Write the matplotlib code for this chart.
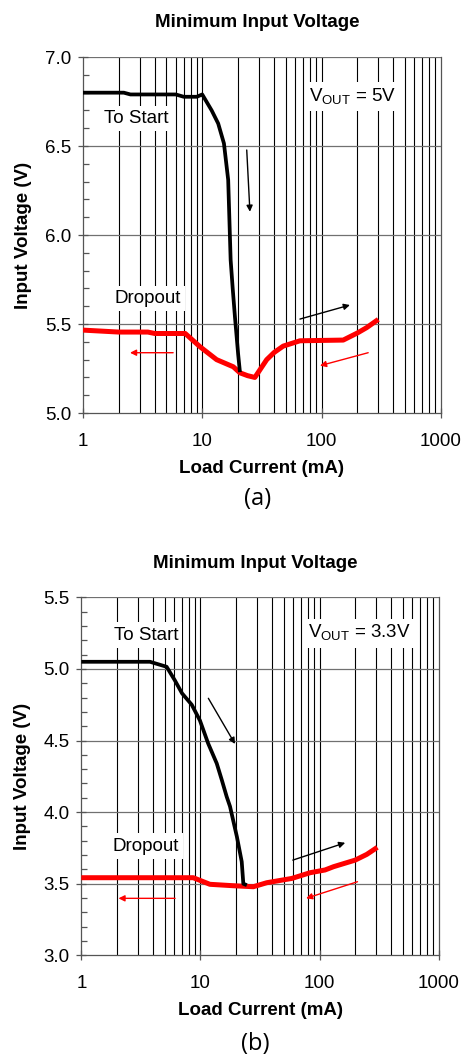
import numpy as np
import matplotlib.pyplot as plt
from matplotlib.ticker import FixedLocator, NullFormatter

plt.rcParams['font.family'] = ['Liberation Sans', 'DejaVu Sans']
plt.rcParams['mathtext.fontset'] = 'custom'
plt.rcParams['mathtext.rm'] = 'Liberation Sans'

# (a) VOUT = 5V
start_a_x = [1, 2.2, 2.5, 6.0, 7.0, 9.0, 10.0, 12.0, 13.6, 15.2, 16.5, 17.3, 18.0, 18.8, 20.0, 20.7]
start_a_y = [6.80, 6.80, 6.79, 6.79, 6.777, 6.777, 6.79, 6.70, 6.627, 6.515, 6.31, 5.86, 5.70, 5.54, 5.33, 5.23]
drop_a_x = [1, 2.0, 3.5, 4.0, 7.2, 9.6, 13.2, 18.2, 20.7, 24.0, 27.6, 34.7, 40.0, 47.7, 65.9, 152, 200, 239, 299]
drop_a_y = [5.466, 5.455, 5.455, 5.447, 5.447, 5.372, 5.30, 5.26, 5.226, 5.21, 5.20, 5.30, 5.34, 5.376, 5.406, 5.41, 5.45, 5.48, 5.526]

# (b) VOUT = 3.3V
start_b_x = [1, 3.77, 5.2, 6.1, 7.0, 8.45, 9.9, 11.6, 13.7, 15.1, 16.6, 17.7, 20.2, 22.2, 22.9, 24.5]
start_b_y = [5.05, 5.05, 5.015, 4.92, 4.83, 4.75, 4.64, 4.48, 4.34, 4.225, 4.108, 4.04, 3.83, 3.654, 3.50, 3.49]
drop_b_x = [1, 8.7, 12.0, 18.9, 27.8, 36.0, 58.5, 83.3, 111, 131, 199, 249, 305]
drop_b_y = [3.542, 3.542, 3.496, 3.486, 3.479, 3.507, 3.537, 3.577, 3.596, 3.619, 3.665, 3.705, 3.754]

panels = [
    dict(rect=[0.178, 0.6107, 0.768, 0.3355], ylim=(5.0, 7.0), sx=start_a_x, sy=start_a_y,
         dx=drop_a_x, dy=drop_a_y, vout='V$_{\\mathregular{OUT}}$ = 5V', tag='(a)',
         start_lbl=(2.78, 6.657), vout_lbl=(183, 6.777), drop_lbl=(3.5, 5.644),
         arrows=[((23.6, 6.478), (25.1, 6.131), 'k'), ((65.9, 5.528), (173, 5.607), 'k'),
                 ((5.7, 5.339), (2.48, 5.339), 'r'), ((246, 5.339), (97, 5.266), 'r')],
         title_y=0.979, tag_y=0.530),
    dict(rect=[0.1745, 0.0996, 0.767, 0.3374], ylim=(3.0, 5.5), sx=start_b_x, sy=start_b_y,
         dx=drop_b_x, dy=drop_b_y, vout='V$_{\\mathregular{OUT}}$ = 3.3V', tag='(b)',
         start_lbl=(3.48, 5.237), vout_lbl=(215, 5.249), drop_lbl=(3.44, 3.763),
         arrows=[((11.65, 4.795), (19.5, 4.476), 'k'), ((59.6, 3.665), (164, 3.786), 'k'),
                 ((6.12, 3.398), (2.05, 3.398), 'r'), ((208, 3.514), (77, 3.398), 'r')],
         title_y=0.469, tag_y=0.016),
]

fs = 13.5

fig = plt.figure(figsize=(4.66, 10.61), dpi=100)

for p in panels:
    ax = fig.add_axes(p['rect'])
    ax.set_xscale('log')
    ax.set_xlim(1, 1000)
    ax.set_ylim(*p['ylim'])
    ax.set_yticks(np.arange(p['ylim'][0], p['ylim'][1] + 0.01, 0.5))
    ax.yaxis.set_minor_locator(FixedLocator(np.arange(p['ylim'][0], p['ylim'][1], 0.1)))
    ax.set_yticklabels(['%.1f' % v for v in ax.get_yticks()])
    ax.set_xticks([1, 10, 100, 1000])
    ax.set_xticklabels(['1', '10', '100', '1000'])
    ax.xaxis.set_minor_formatter(NullFormatter())

    vlines = [m * 10 ** d for d in range(3) for m in range(2, 10)] + [10, 100]
    for v in vlines:
        ax.axvline(v, color='black', lw=0.8, zorder=1)
    for h in np.arange(p['ylim'][0] + 0.5, p['ylim'][1] + 0.01, 0.5):
        ax.axhline(h, color='#707070', lw=0.9, zorder=1)

    ax.tick_params(axis='both', which='major', direction='inout', length=7, width=0.9,
                   color='#555555', labelsize=fs, pad=5)
    ax.tick_params(axis='x', which='major', pad=11)
    ax.tick_params(axis='y', which='minor', direction='in', length=4, width=0.9, color='#555555')
    ax.tick_params(axis='x', which='minor', length=0)
    for s in ['left', 'bottom', 'right']:
        ax.spines[s].set_color('#555555')
        ax.spines[s].set_linewidth(0.9)
    ax.spines['top'].set_visible(False)

    ax.plot(p['dx'], p['dy'], color='#ff0000', lw=3.6, zorder=3, solid_capstyle='butt')
    ax.plot(p['sx'], p['sy'], color='black', lw=2.7, zorder=4, solid_capstyle='butt')

    for (x0, y0), (x1, y1), c in p['arrows']:
        col = 'black' if c == 'k' else '#ff0000'
        ax.annotate('', xy=(x1, y1), xytext=(x0, y0),
                    arrowprops=dict(arrowstyle='-|>', color=col, lw=1.0,
                                    mutation_scale=9, shrinkA=0, shrinkB=0), zorder=5)

    box = dict(facecolor='white', edgecolor='none', pad=3)
    ax.text(*p['start_lbl'], 'To Start', fontsize=fs, ha='center', va='center', bbox=box, zorder=6)
    ax.text(*p['drop_lbl'], 'Dropout', fontsize=fs, ha='center', va='center', bbox=box, zorder=6)
    ax.text(*p['vout_lbl'], p['vout'], fontsize=fs, ha='center', va='center', bbox=box, zorder=6)

    ax.set_xlabel('Load Current (mA)', fontsize=fs, fontweight='bold', labelpad=7)
    ax.set_ylabel('Input Voltage (V)', fontsize=fs, fontweight='bold', labelpad=9)

    cx = p['rect'][0] + p['rect'][2] / 2
    fig.text(cx - 0.01, p['title_y'], 'Minimum Input Voltage', fontsize=fs, fontweight='bold',
             ha='center', va='center')
    fig.text(cx - 0.01, p['tag_y'], p['tag'], fontsize=17, ha='center', va='center',
             family=['Open Sans', 'DejaVu Sans'])

fig.savefig('out.png', dpi=100)
